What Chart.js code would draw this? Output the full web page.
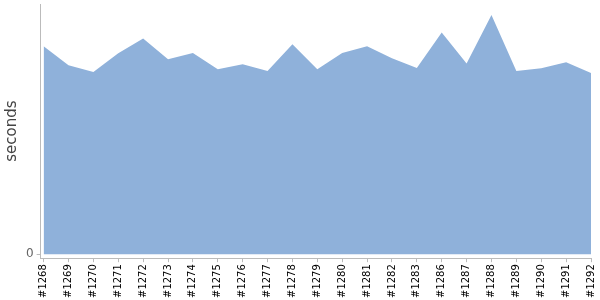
<!DOCTYPE html>
<html>
<head>
<meta charset="utf-8">
<script src="https://cdn.jsdelivr.net/npm/chart.js@4"></script>
<style>
  body { margin: 0; background: #fff; }
  #wrap { width: 600px; height: 300px; }
</style>
</head>
<body>
<div id="wrap"><canvas id="myChart"></canvas></div>
<script>
// build numbers along the x axis
var builds = ['#1268', '#1269', '#1270', '#1271', '#1272', '#1273', '#1274', '#1275',
  '#1276', '#1277', '#1278', '#1279', '#1280', '#1281', '#1282', '#1283',
  '#1286', '#1287', '#1288', '#1289', '#1290', '#1291', '#1292'];
// duration per build (seconds, scale)
var seconds = [83.1, 75.5, 72.8, 80.3, 86.2, 77.9, 80.4, 73.9,
  75.9, 73.2, 83.9, 73.9, 80.4, 83.1, 78.3, 74.4,
  88.6, 76.2, 95.6, 73.2, 74.3, 76.7, 72.4];
var yTicks = [0];

var points = [];
for (var i = 0; i < seconds.length; i++) {
  points.push({ x: i, y: seconds[i] });
}

var ctx = document.getElementById('myChart').getContext('2d');
var myChart = new Chart(ctx, {
  type: 'line',
  data: {
    datasets: [{
      label: 'seconds',
      data: points,
      fill: 'origin',
      backgroundColor: '#8fb1da',
      borderWidth: 0,
      borderColor: 'rgba(0,0,0,0)',
      pointRadius: 0,
      tension: 0
    }]
  },
  options: {
    responsive: true,
    maintainAspectRatio: false,
    animation: false,
    layout: { padding: { top: 4, right: 9, left: 1, bottom: 0 } },
    plugins: {
      legend: { display: false },
      tooltip: { enabled: false }
    },
    scales: {
      x: {
        type: 'linear',
        min: -0.12,
        max: builds.length - 1,
        afterBuildTicks: function(scale) {
          scale.ticks = builds.map(function(b, i) { return { value: i }; });
        },
        afterFit: function(scale) {
          scale.paddingLeft = 0;
          scale.paddingRight = 0;
        },
        ticks: {
          autoSkip: false,
          maxRotation: 90,
          minRotation: 90,
          padding: 2,
          color: '#000',
          font: { family: 'DejaVu Sans', size: 10 },
          callback: function(v) { return builds[v]; }
        },
        grid: {
          drawOnChartArea: false,
          tickLength: 4,
          color: '#bbb'
        },
        border: { color: '#bbb' }
      },
      y: {
        min: -1.6,
        max: 100,
        afterBuildTicks: function(scale) {
          scale.ticks = yTicks.map(function(v) { return { value: v }; });
        },
        afterFit: function(scale) {
          scale.paddingTop = 0;
          scale.paddingBottom = 0;
        },
        ticks: {
          color: '#666',
          padding: 3,
          font: { family: 'DejaVu Sans', size: 12 }
        },
        grid: {
          drawOnChartArea: false,
          tickLength: 4,
          color: '#bbb'
        },
        border: { color: '#bbb' },
        title: {
          display: true,
          text: 'seconds',
          color: '#444',
          padding: 2,
          font: { family: 'DejaVu Sans', size: 15 }
        }
      }
    }
  }
});
</script>
</body>
</html>
